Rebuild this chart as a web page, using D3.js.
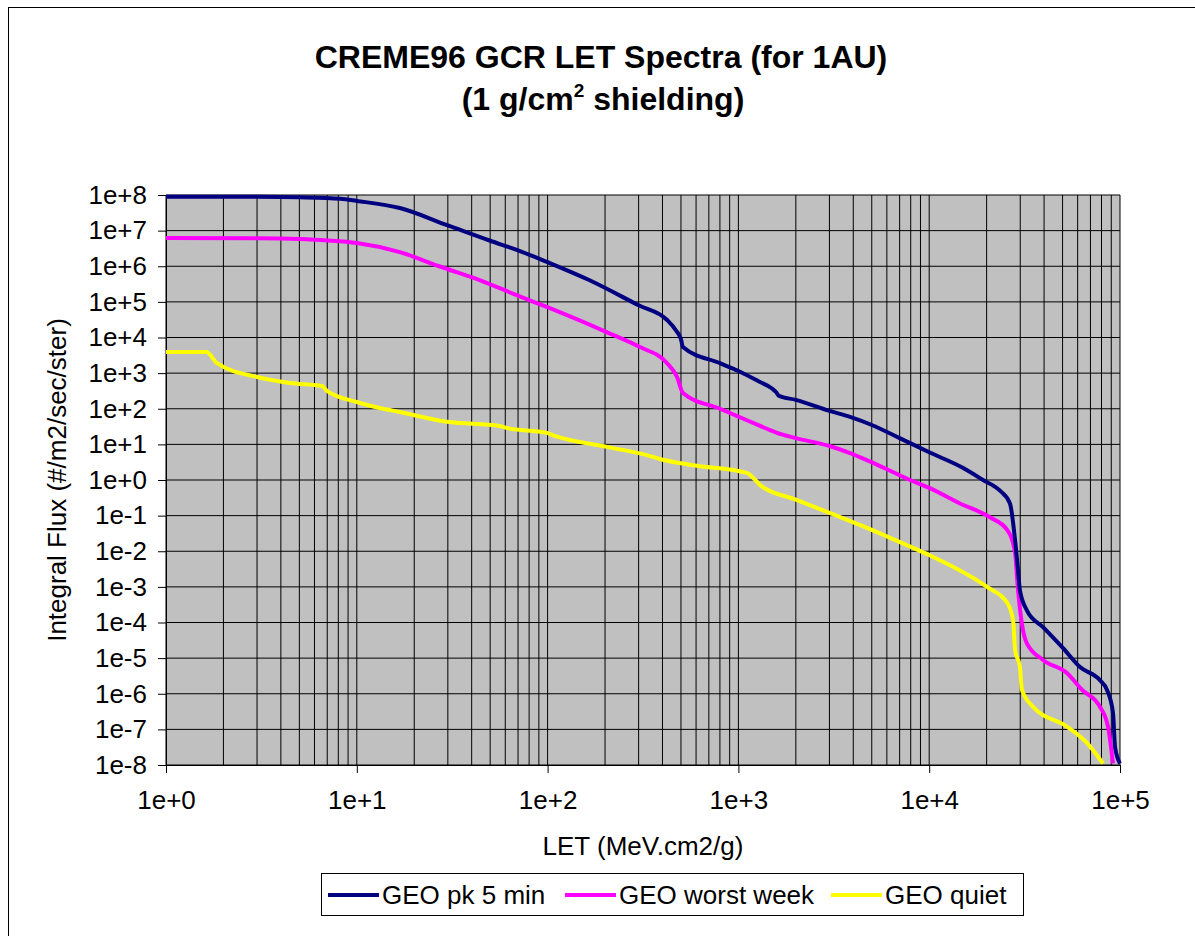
<!DOCTYPE html>
<html>
<head>
<meta charset="utf-8">
<script src="https://cdn.jsdelivr.net/npm/d3@7"></script>
<style>
  html, body { margin: 0; padding: 0; background: #fff; }
  svg { display: block; }
  text { font-family: "Liberation Sans", Arial, sans-serif; fill: #000; }
</style>
</head>
<body>
<svg id="chart" width="1195" height="936"></svg>
<script>
// ---- data ----
const seriesNames = ["GEO pk 5 min", "GEO worst week", "GEO quiet"];
const seriesColors = ["#000080", "#FF00FF", "#FFFF00"];

const letPk5 = [1, 3, 5, 8.2, 10, 16.8, 30, 50, 70, 100, 165, 300, 423, 470, 500, 512, 800, 1000, 1300, 1500, 1574, 1632, 2000, 3000, 3846, 5000, 7000, 10000, 15000, 19140, 23500, 26500, 28200, 29200, 29900, 32500, 39500, 50300, 61700, 78500, 85400, 91900, 94200, 100000];
const fluxPk5 = [9e7, 8.9e7, 8.6e7, 7.8e7, 6.8e7, 4.3e7, 1.4e7, 5.2e6, 2.8e6, 1.3e6, 4.1e5, 8e4, 3.1e4, 1.6e4, 9e3, 5.4e3, 1.9e3, 1.15e3, 560, 370, 296, 229, 178, 87, 59, 35, 15, 6, 2.2, 1.0, 0.5, 0.22, 0.02, 3e-3, 8e-4, 2.2e-4, 7.4e-5, 1.9e-5, 5.6e-6, 2.4e-6, 1.3e-6, 2.9e-7, 3.2e-8, 1.1e-8];

const letWorst = [1, 3, 5, 7, 10, 16.8, 27, 44, 72, 99, 205, 305, 423, 477, 512, 800, 1000, 1300, 1465, 1593, 2000, 3000, 3846, 5500, 7930, 10000, 14500, 20800, 25600, 28200, 29000, 31000, 32500, 39500, 52700, 63100, 78500, 86500, 91900];
const fluxWorst = [6.2e6, 6.1e6, 5.8e6, 5.3e6, 4.5e6, 2.5e6, 1e6, 4.1e5, 1.4e5, 7.2e4, 1.4e4, 5.4e3, 1.9e3, 780, 277, 100, 60, 33, 25, 21, 15, 9, 5.7, 2.5, 1.0, 0.6, 0.22, 0.09, 0.04, 9e-3, 1.3e-3, 6.2e-5, 2.6e-5, 8.9e-6, 3.8e-6, 1.3e-6, 4.3e-7, 1.2e-7, 1.1e-8];

const letQuiet = [1, 1.64, 1.7, 1.85, 3.0, 4.47, 6.57, 6.98, 10, 13.2, 16.8, 29.7, 56, 61, 99, 107, 205, 331, 388, 578, 1109, 1194, 1300, 2000, 3000, 5000, 7030, 10500, 20100, 25600, 27500, 28200, 29900, 30600, 35000, 52700, 67100, 81500];
const fluxQuiet = [3.9e3, 3.9e3, 3.3e3, 1.9e3, 780, 530, 436, 316, 155, 105, 81, 43, 33, 29, 21, 18, 8.5, 5, 3.9, 2.6, 1.58, 1.15, 0.72, 0.28, 0.12, 0.04, 0.018, 6.9e-3, 1e-3, 3.6e-4, 1.2e-4, 1.7e-5, 5.6e-6, 1.3e-6, 4.3e-7, 1.2e-7, 4.2e-8, 1.1e-8];

const xTickValues = [1, 10, 100, 1000, 10000, 100000];
const xTickLabels = ["1e+0", "1e+1", "1e+2", "1e+3", "1e+4", "1e+5"];
const yTickValues = [1e8, 1e7, 1e6, 1e5, 1e4, 1e3, 1e2, 1e1, 1e0, 1e-1, 1e-2, 1e-3, 1e-4, 1e-5, 1e-6, 1e-7, 1e-8];
const yTickLabels = ["1e+8", "1e+7", "1e+6", "1e+5", "1e+4", "1e+3", "1e+2", "1e+1", "1e+0", "1e-1", "1e-2", "1e-3", "1e-4", "1e-5", "1e-6", "1e-7", "1e-8"];

// ---- layout ----
const svg = d3.select("#chart");
const plot = { left: 166, right: 1120, top: 195, bottom: 765 };

const x = d3.scaleLog().domain([1, 1e5]).range([plot.left, plot.right]);
const y = d3.scaleLog().domain([1e-8, 1e8]).range([plot.bottom, plot.top]);

// outer frame
svg.append("rect").attr("x", 8.5).attr("y", 7.5).attr("width", 1300).attr("height", 1100)
  .attr("fill", "#fff").attr("stroke", "#000").attr("stroke-width", 1);

// plot background
svg.append("rect").attr("x", plot.left).attr("y", plot.top)
  .attr("width", plot.right - plot.left).attr("height", plot.bottom - plot.top)
  .attr("fill", "#C0C0C0");

// gridlines
const minorX = [];
for (let d = 0; d < 5; d++) for (let m = 1; m <= 9; m++) minorX.push(m * Math.pow(10, d));
minorX.push(1e5);
const grid = svg.append("g");
grid.selectAll("line.vx").data(minorX).join("line")
  .attr("x1", d => x(d)).attr("x2", d => x(d))
  .attr("y1", plot.top).attr("y2", plot.bottom)
  .attr("stroke", "#000").attr("stroke-width", 1);
grid.selectAll("line.hy").data(yTickValues).join("line")
  .attr("x1", plot.left).attr("x2", plot.right)
  .attr("y1", d => y(d)).attr("y2", d => y(d))
  .attr("stroke", "#000").attr("stroke-width", 1);

// axes
const xAxis = d3.axisBottom(x).tickValues(xTickValues).tickSize(8)
  .tickFormat((d, i) => xTickLabels[i]).tickPadding(18);
const gx = svg.append("g").attr("transform", `translate(0,${plot.bottom})`).call(xAxis);
gx.selectAll("text").attr("font-size", 26).style("font-family", '"Liberation Sans", Arial, sans-serif');
gx.select(".domain").attr("stroke", "#000");

const yAxis = d3.axisLeft(y).tickValues(yTickValues).tickSize(8)
  .tickFormat((d, i) => yTickLabels[i]).tickPadding(11);
const gy = svg.append("g").attr("transform", `translate(${plot.left},0)`).call(yAxis);
gy.selectAll("text").attr("font-size", 26).style("font-family", '"Liberation Sans", Arial, sans-serif');
gy.select(".domain").attr("stroke", "#000");

// series
const series = [
  { name: seriesNames[0], color: seriesColors[0], xs: letPk5, ys: fluxPk5 },
  { name: seriesNames[1], color: seriesColors[1], xs: letWorst, ys: fluxWorst },
  { name: seriesNames[2], color: seriesColors[2], xs: letQuiet, ys: fluxQuiet }
];
svg.append("clipPath").attr("id", "clip").append("rect")
  .attr("x", plot.left).attr("y", plot.top - 2)
  .attr("width", plot.right - plot.left + 3).attr("height", plot.bottom - plot.top + 2);

const lineGen = d3.line().x(d => x(d[0])).y(d => y(d[1])).curve(d3.curveMonotoneX);

// draw in reverse order so the first series sits on top
series.slice().reverse().forEach(s => {
  svg.append("path")
    .datum(s.xs.map((v, i) => [v, s.ys[i]]))
    .attr("clip-path", "url(#clip)")
    .attr("fill", "none").attr("stroke", s.color).attr("stroke-width", 4)
    .attr("stroke-linejoin", "round")
    .attr("d", lineGen);
});

// titles
const title = svg.append("text").attr("x", 601).attr("text-anchor", "middle")
  .attr("font-size", 32).attr("font-weight", "bold");
title.append("tspan").attr("x", 601).attr("y", 68).text("CREME96 GCR LET Spectra (for 1AU)");
const t2 = title.append("tspan").attr("x", 603).attr("y", 110);
t2.append("tspan").text("(1 g/cm");
t2.append("tspan").attr("font-size", 19).attr("dy", -13).text("2");
t2.append("tspan").attr("dy", 13).text(" shielding)");

svg.append("text").attr("x", (plot.left + plot.right) / 2).attr("y", 855)
  .attr("text-anchor", "middle").attr("font-size", 26).text("LET (MeV.cm2/g)");

svg.append("text").attr("transform", `translate(66,${(plot.top + plot.bottom) / 2}) rotate(-90)`)
  .attr("text-anchor", "middle").attr("font-size", 26).text("Integral Flux (#/m2/sec/ster)");

// legend
const lg = svg.append("g");
lg.append("rect").attr("x", 321.5).attr("y", 873.5).attr("width", 702).attr("height", 42)
  .attr("fill", "#fff").attr("stroke", "#000").attr("stroke-width", 1);
const legendX = [328, 565, 831];
series.forEach((s, i) => {
  lg.append("line").attr("x1", legendX[i]).attr("x2", legendX[i] + 51)
    .attr("y1", 895).attr("y2", 895).attr("stroke", s.color).attr("stroke-width", 4);
  lg.append("text").attr("x", legendX[i] + 54).attr("y", 904)
    .attr("font-size", 26).text(s.name);
});
</script>
</body>
</html>
